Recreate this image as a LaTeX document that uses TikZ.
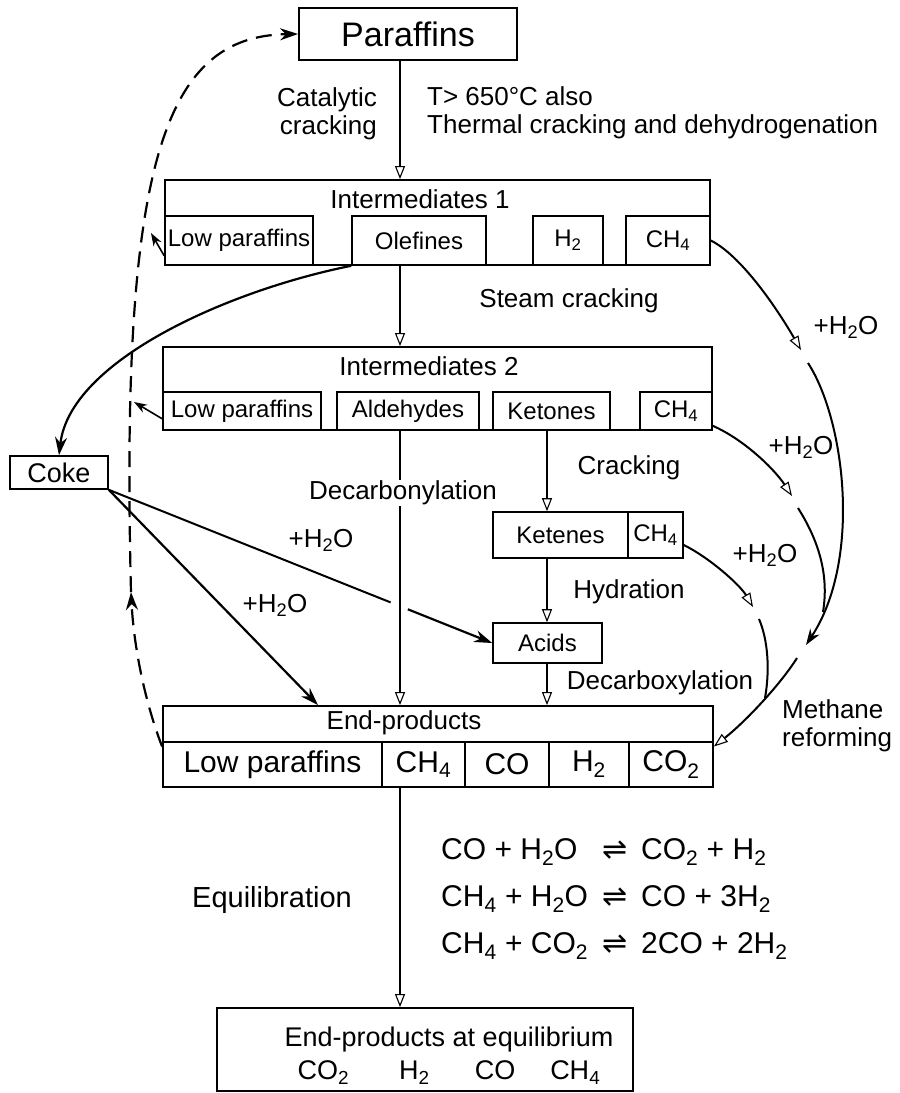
\documentclass[tikz,border=0pt]{standalone}
\usepackage{fontspec}
\setmainfont{Liberation Sans}
\newfontfamily\symfont{DejaVu Sans}
\usetikzlibrary{arrows.meta, calc}
\newcommand{\sbs}[1]{\textsubscript{#1}}
\newcommand{\eqarrow}{{\symfont ⇌}}
\tikzstyle{bigbox} = [rectangle, draw=black, line width=1.8pt, inner sep=0pt]
\tikzstyle{cell} = [rectangle, draw=black, line width=1.6pt, inner sep=0pt, font=\fontsize{24}{30}\selectfont]
\tikzstyle{bigcell} = [cell, font=\fontsize{30}{36}\selectfont]
\tikzstyle{note} = [inner sep=1pt, font=\fontsize{26}{28}\selectfont]
\tikzstyle{arrow} = [line width=1.3pt, ->, >={Triangle[open, length=13pt, width=10pt, line width=1.1pt]}]
\tikzstyle{boldarrow} = [line width=2.2pt, ->, >={Stealth[length=18pt, width=12pt]}]
\tikzstyle{smallarrow} = [line width=1.6pt, ->, >={Stealth[length=13pt, width=9pt]}]
\tikzstyle{reformline} = [line width=2pt]
\tikzstyle{reform} = [reformline, ->, >={Triangle[open, length=14pt, width=10pt, line width=1.1pt]}]
\tikzstyle{dasharrow} = [line width=2.2pt, dash pattern=on 16pt off 9pt, ->, >={Stealth[length=18pt, width=12pt]}]

\begin{document}
\begin{tikzpicture}[x=1pt, y=-1pt]
\useasboundingbox (0,0) rectangle (900,1093);

% boxes
\node (par) [bigbox, font=\fontsize{34}{40}\selectfont, minimum width=218pt, minimum height=52pt] at (408,34) {Paraffins};

\node (i1) [bigbox, minimum width=545pt, minimum height=85pt] at (437.5,222.5) {};
\node (i1title) [note] at (420,199) {Intermediates 1};
\node (i1low) [cell, minimum width=148pt, minimum height=49pt] at (239,240.5) {Low paraffins};
\node (i1ole) [cell, minimum width=134pt, minimum height=49pt] at (419,240.5) {Olefines};
\node (i1h2) [cell, minimum width=70pt, minimum height=49pt] at (568,240.5) {H\sbs{2}};
\node (i1ch4) [cell, minimum width=84pt, minimum height=49pt] at (668,240.5) {CH\sbs{4}};

\node (i2) [bigbox, minimum width=549pt, minimum height=83pt] at (437.5,388.5) {};
\node (i2title) [note] at (429,366) {Intermediates 2};
\node (i2low) [cell, minimum width=158pt, minimum height=38pt] at (242,411) {Low paraffins};
\node (i2ald) [cell, minimum width=142pt, minimum height=38pt] at (408,411) {Aldehydes};
\node (i2ket) [cell, minimum width=117pt, minimum height=38pt] at (551.5,411) {Ketones};
\node (i2ch4) [cell, minimum width=72pt, minimum height=38pt] at (676,411) {CH\sbs{4}};

\node (coke) [cell, font=\fontsize{27}{30}\selectfont, minimum width=98pt, minimum height=33pt] at (59,472.5) {Coke};

\node (kete) [cell, minimum width=135pt, minimum height=46pt] at (560.5,535) {Ketenes};
\node (kch4) [cell, minimum width=55pt, minimum height=46pt] at (655.5,535) {CH\sbs{4}};
\node (acids) [cell, minimum width=109pt, minimum height=40pt] at (547.5,643) {Acids};

\node (ep) [bigbox, minimum width=550pt, minimum height=81pt] at (438,746.5) {};
\node (eptitle) [note] at (404,723) {End-products};
\node (eplow) [bigcell, minimum width=219pt, minimum height=45pt] at (272.5,764.5) {Low paraffins};
\node (epch4) [bigcell, minimum width=83pt, minimum height=45pt] at (423.5,764.5) {CH\sbs{4}};
\node (epco) [bigcell, minimum width=84pt, minimum height=45pt] at (507,764.5) {CO};
\node (eph2) [bigcell, minimum width=80pt, minimum height=45pt] at (589,764.5) {H\sbs{2}};
\node (epco2) [bigcell, minimum width=84pt, minimum height=45pt] at (671,764.5) {CO\sbs{2}};

\node (final) [bigbox, minimum width=416pt, minimum height=83pt] at (425,1049.5) {};
\node (finaltxt) [note, align=center, font=\fontsize{27}{33}\selectfont] at (449,1056) {End-products at equilibrium\\CO\sbs{2}\hspace{50pt}H\sbs{2}\hspace{45pt}CO\hspace{35pt}CH\sbs{4}};

% main flow
\coordinate (sp1) at (400,0);
\coordinate (sp2) at (547,0);
\draw [arrow] (par.south -| sp1) -- (i1.north -| sp1);
\draw [arrow] (i1ole.south -| sp1) -- (i2.north -| sp1);
\draw [arrow] (i2ket.south -| sp2) -- (kete.north -| sp2);
\draw [arrow] (kete.south -| sp2) -- (acids.north -| sp2);
\draw [arrow] (acids.south -| sp2) -- (ep.north -| sp2);
\draw [arrow] (epch4.south -| sp1) -- (final.north -| sp1);

% coke
\draw [boldarrow] (i1ole.south west) .. controls (230,290) and (70,360) .. (coke.north);
\draw [reformline] (coke.south east) -- ($(coke.south east)!0.735!(acids.west)$);
\draw [boldarrow] ($(coke.south east)!0.78!(acids.west)$) -- (acids.west);
\draw [boldarrow] (coke.south east) -- ([xshift=-120pt]ep.north);
\draw [arrow] (i2ald.south -| sp1) -- (ep.north -| sp1);
\node (decarb) [note, fill=white] at (403,493) {Decarbonylation};

% recycle of low paraffins
\coordinate (dm) at (131,592);
\coordinate (lp1) at (151,233);
\coordinate (lp2) at (134,402);
\draw [dasharrow] (ep.west) .. controls (146,705) and (134,650) .. (dm);
\draw [dasharrow] (dm) .. controls (120,160) and (165,36) .. (par.west);
\draw [smallarrow] ([yshift=10pt]i1low.south west) -- (lp1);
\draw [smallarrow] ([yshift=12pt]i2low.south west) -- (lp2);

% methane reforming
\coordinate (a1) at (801,350);
\coordinate (a2) at (808,363);
\coordinate (a3) at (806,645);
\coordinate (a4) at (797,658);
\coordinate (b1) at (792,496);
\coordinate (b2) at (798,508);
\coordinate (bm) at (823,612);
\coordinate (c1) at (753,607);
\coordinate (c2) at (759,619);
\coordinate (cm) at (765,698);
\draw [reform] (i1ch4.east) .. controls (740,255) and (775,305) .. (a1);
\draw [reformline, ->, >={Stealth[length=16pt, width=11pt]}] (a2) .. controls (845,420) and (862,560) .. (a3);
\draw [reform] (a4) .. controls (780,685) and (745,722) .. (ep.east);
\draw [reform] ([yshift=5pt]i2ch4.south east) .. controls (745,440) and (775,470) .. (b1);
\draw [reformline] (b2) .. controls (815,535) and (830,570) .. (bm);
\draw [reform] ([yshift=-10pt]kch4.east) .. controls (710,558) and (740,585) .. (c1);
\draw [reformline] (c2) .. controls (768,640) and (770,670) .. (cm);

% labels
\node (catal) [note, anchor=east, align=right] at (378,114) {Catalytic\\cracking};
\node (thermal) [note, anchor=west, align=left] at (426,113) {T> 650°C also\\Thermal cracking and dehydrogenation};
\node (steam) [note] at (569,301) {Steam cracking};
\node (crack) [note] at (629,468) {Cracking};
\node (hydr) [note] at (629,592) {Hydration};
\node (decarbox) [note] at (660,683) {Decarboxylation};
\node (methref) [note, anchor=west, align=left] at (781,726) {Methane\\reforming};
\node (wa) [note] at (846,327) {+H\sbs{2}O};
\node (wb) [note] at (801,447) {+H\sbs{2}O};
\node (wc) [note] at (765,555) {+H\sbs{2}O};
\node (wd) [note] at (321,540) {+H\sbs{2}O};
\node (we) [note] at (275,605) {+H\sbs{2}O};
\node (equil) [note, font=\fontsize{29}{32}\selectfont] at (272,900) {Equilibration};
\node (eqs) [anchor=west, inner sep=0pt, font=\fontsize{30}{47}\selectfont] at (441,897) {%
  \begin{tabular}{@{}l@{\hspace{14pt}}c@{\hspace{14pt}}l@{}}
  CO + H\sbs{2}O & \eqarrow & CO\sbs{2} + H\sbs{2}\\
  CH\sbs{4} + H\sbs{2}O & \eqarrow & CO + 3H\sbs{2}\\
  CH\sbs{4} + CO\sbs{2} & \eqarrow & 2CO + 2H\sbs{2}
  \end{tabular}};

\end{tikzpicture}
\end{document}
